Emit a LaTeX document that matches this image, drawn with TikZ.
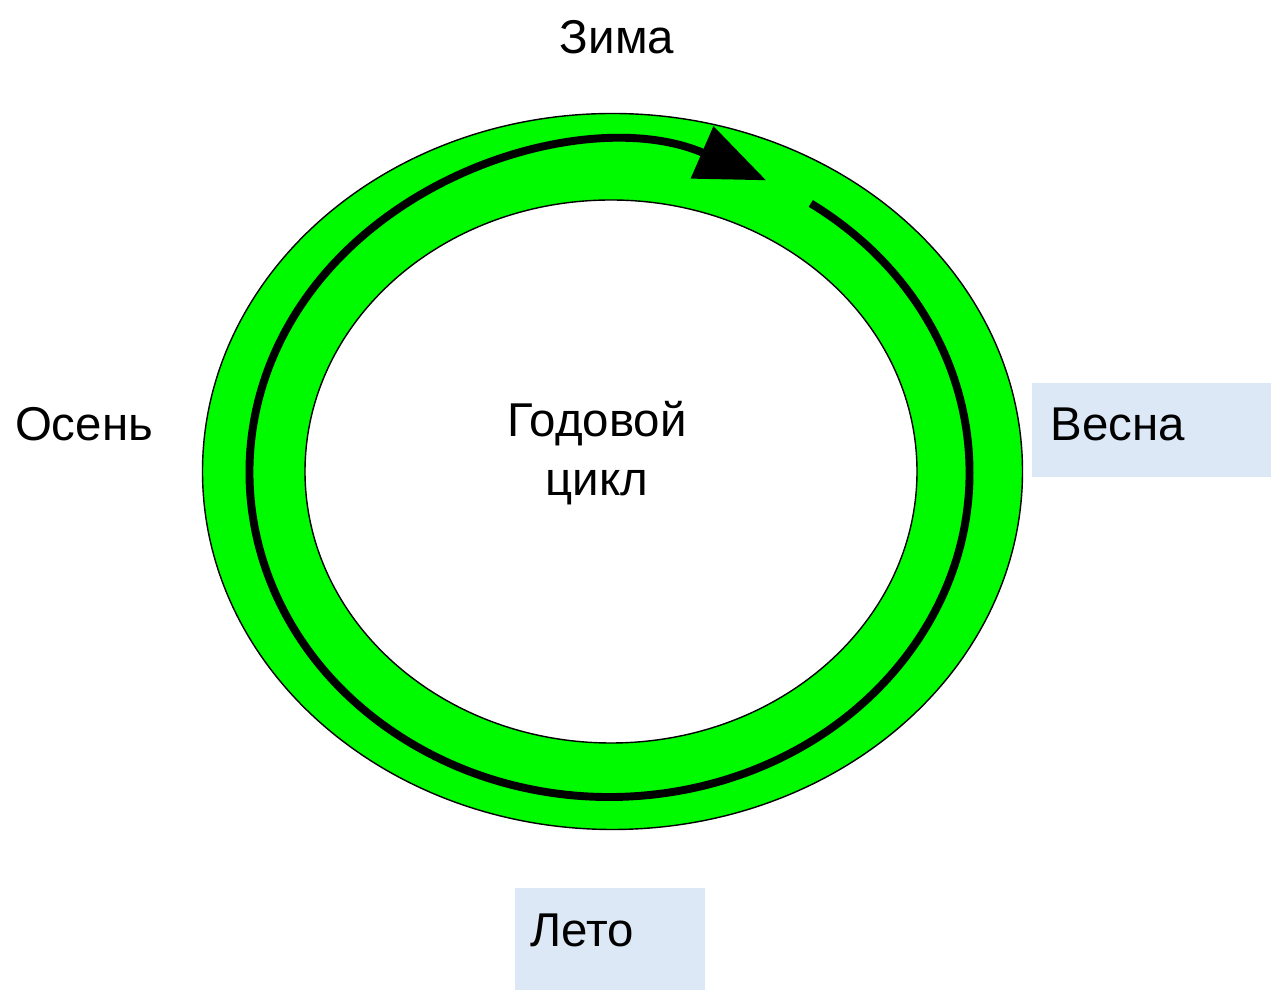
\documentclass[tikz,border=0pt]{standalone}
\usepackage{fontspec}
\setmainfont{Liberation Sans}
\usetikzlibrary{arrows.meta}
\begin{document}
\begin{tikzpicture}[x=0.02cm, y=0.02cm,
  season/.style={font=\fontsize{27}{32}\selectfont, inner sep=0pt},
  seasonbox/.style={fill={rgb,255:red,220;green,232;blue,246}, draw=none, inner sep=0pt},
  ring/.style={fill={rgb,255:red,0;green,250;blue,0}, draw=black, line width=0.8pt, even odd rule},
  cycleline/.style={draw=black, line width=4.5pt, -{Triangle[length=1.4cm, width=1.1cm]}}]
  \useasboundingbox (0,0) rectangle (1271,990);

  % green ring
  \path[ring] (612.5,518.5) ellipse (410 and 358) (611,518.5) ellipse (306 and 271.5);
  \coordinate (c) at (609.5,517.5);
  \draw[cycleline] ([shift={(56:360 and 324.5)}]c) arc[start angle=56, end angle=-295.8, x radius=360, y radius=324.5];

  % boxes
  \node[seasonbox, minimum width=4.78cm, minimum height=1.88cm] (vesnabox) at (1151.5,560) {};
  \node[seasonbox, minimum width=3.8cm, minimum height=2.04cm] (letobox) at (610,51) {};

  % labels
  \node[season] (zima) at (617,953) {Зима};
  \node[season] (osen) at (84,566) {Осень};
  \node[season, anchor=west] (vesna) at (1050,566) {Весна};
  \node[season, anchor=west] (leto) at (530,60) {Лето};
  \node[season] (god) at (597,566) {Годовой};
  \node[season] (cikl) at (597,502) {цикл};
\end{tikzpicture}
\end{document}
